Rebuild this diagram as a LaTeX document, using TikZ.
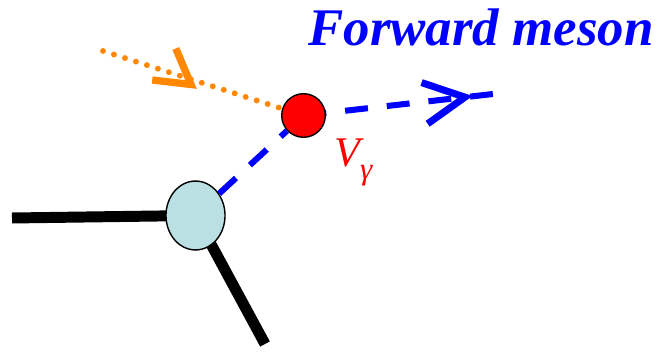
\documentclass[tikz,border=0pt]{standalone}
\usepackage{fontspec}
\setmainfont{Liberation Serif}
\usetikzlibrary{shapes.geometric,decorations.markings,backgrounds}
\definecolor{mesonblue}{RGB}{0,0,255}
\definecolor{photonorange}{RGB}{255,136,0}
\definecolor{blobcyan}{RGB}{187,224,227}
\tikzset{
	leg/.style={line width=7.8pt},
	vline/.style={mesonblue, line width=4.3pt, dash pattern=on 16.3pt off 13.5pt},
	gline/.style={photonorange, line width=4.2pt, line cap=round, dash pattern=on 0pt off 8.2pt},
	gchev/.style={postaction={decorate,decoration={markings,mark=at position 0.5 with {\draw[photonorange,solid,line width=5.2pt,line cap=butt] [shift={(0,-3.5pt)},rotate=-19] (-24pt,14pt) -- (0,0) -- (-24pt,-14pt) ;}}}},
	vchev/.style={postaction={decorate,decoration={markings,mark=at position 0.852 with {\draw[mesonblue,solid,line width=5pt,line cap=butt] [rotate=2] (-29pt,14.8pt) -- (0,0) -- (-29pt,-14.8pt) ;}}}},
}
\begin{document}
\begin{tikzpicture}[x=0.025cm,y=-0.025cm]
	\useasboundingbox (0,0) rectangle (657,352) ;
		\node (blob)[ellipse,draw,fill=blobcyan,minimum width=42pt,minimum height=49pt,inner sep=0pt,line width=1pt] at (195.5,215.5) {} ;
		\node (vg)[circle,draw,fill=red,minimum size=31pt,inner sep=0pt,line width=1pt] at (303.5,115.5) {} ;
		\coordinate (lw) at (12,218) ;
		\coordinate (ls) at (265,344) ;
		\coordinate (gin) at (103,51) ;
		\coordinate (vend) at (493,94) ;
		\node (fm)[anchor=base,inner sep=0pt,text=mesonblue,font=\fontsize{37.6}{37.6}\selectfont\bfseries\itshape] at (481,46) {Forward meson} ;
		\node (vlab)[anchor=base west,inner sep=0pt,text=red,font=\fontsize{30}{30}\selectfont\itshape] at (334,167) {V\raisebox{-9pt}{\fontsize{22}{22}\selectfont γ}} ;
	\begin{scope}[on background layer]
	\draw[leg] (lw) -- (blob.center) ;
	\draw[leg] (ls) -- (blob.center) ;
	\draw[vline,vchev] (vg.center) -- (vend) ;
	\end{scope}
	\draw[vline] (blob) -- (vg) ;
	\draw[gline,gchev] (gin) -- (vg) ;
\end{tikzpicture}
\end{document}
